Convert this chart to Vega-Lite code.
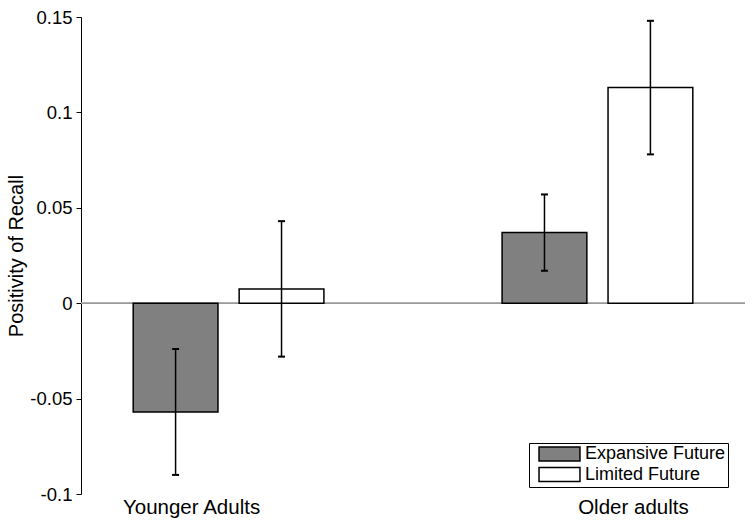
{
  "$schema": "https://vega.github.io/schema/vega-lite/v6.json",
  "autosize": "none",
  "padding": {"left": 81, "top": 17, "right": 9, "bottom": 33},
  "width": 664,
  "height": 477,
  "background": "white",
  "config": {
    "view": {"stroke": null},
    "font": "Liberation Sans"
  },
  "data": {
    "values": [
      {"group": "Younger Adults", "condition": "Expansive Future", "value": -0.057, "lo": -0.090, "hi": -0.024},
      {"group": "Younger Adults", "condition": "Limited Future", "value": 0.0075, "lo": -0.028, "hi": 0.043},
      {"group": "Older adults", "condition": "Expansive Future", "value": 0.037, "lo": 0.017, "hi": 0.057},
      {"group": "Older adults", "condition": "Limited Future", "value": 0.113, "lo": 0.078, "hi": 0.148}
    ]
  },
  "encoding": {
    "x": {
      "field": "group",
      "type": "nominal",
      "sort": ["Younger Adults", "Older adults"],
      "scale": {"paddingInner": 0.483, "paddingOuter": 0.1415},
      "axis": {
        "title": null,
        "domain": false,
        "ticks": false,
        "labelAngle": 0,
        "labelFontSize": 20.5,
        "labelColor": "black",
        "labelPadding": 3,
        "labelOffset": {"condition": {"test": "datum.value === 'Younger Adults'", "value": -37}, "value": 36}
      }
    },
    "xOffset": {
      "field": "condition",
      "type": "nominal",
      "sort": ["Expansive Future", "Limited Future"],
      "scale": {"paddingInner": 0.2, "paddingOuter": 0}
    }
  },
  "layer": [
    {
      "mark": {"type": "rule", "color": "#9a9a9a", "strokeWidth": 1},
      "encoding": {"y": {"datum": 0, "type": "quantitative"}, "x": null, "xOffset": null}
    },
    {
      "mark": {"type": "bar", "stroke": "black", "strokeWidth": 1.5, "opacity": 1},
      "encoding": {
        "y": {
          "field": "value",
          "type": "quantitative",
          "scale": {"domain": [-0.1, 0.15], "nice": false, "zero": false},
          "axis": {
            "title": "Positivity of Recall",
            "titleFontSize": 20,
            "titleFontWeight": "normal",
            "titleColor": "black",
            "titlePadding": 3,
            "values": [-0.1, -0.05, 0, 0.05, 0.1, 0.15],
            "labelExpr": "'' + datum.value",
            "labelFontSize": 18.5,
            "labelColor": "black",
            "labelPadding": 4,
            "tickSize": 5,
            "tickColor": "black",
            "domainColor": "black",
            "grid": false
          }
        },
        "fill": {
          "field": "condition",
          "type": "nominal",
          "sort": ["Expansive Future", "Limited Future"],
          "scale": {"range": ["#808080", "#ffffff"]},
          "legend": {
            "title": null,
            "orient": "none",
            "legendX": 448,
            "legendY": 426,
            "strokeColor": "black",
            "fillColor": "white",
            "padding": 2,
            "symbolType": "M-0.14,-1H5.71V1H-0.14Z",
            "symbolSize": 196,
            "symbolStrokeColor": "black",
            "symbolStrokeWidth": 1.5,
            "symbolOpacity": 1,
            "labelOffset": 36,
            "labelFontSize": 18,
            "labelColor": "black",
            "rowPadding": 0.5
          }
        }
      }
    },
    {
      "mark": {"type": "rule", "color": "black", "strokeWidth": 1.5},
      "encoding": {
        "y": {"field": "lo", "type": "quantitative"},
        "y2": {"field": "hi"}
      }
    },
    {
      "mark": {"type": "tick", "color": "black", "size": 7, "thickness": 2, "opacity": 1},
      "encoding": {"y": {"field": "lo", "type": "quantitative"}}
    },
    {
      "mark": {"type": "tick", "color": "black", "size": 7, "thickness": 2, "opacity": 1},
      "encoding": {"y": {"field": "hi", "type": "quantitative"}}
    }
  ]
}
